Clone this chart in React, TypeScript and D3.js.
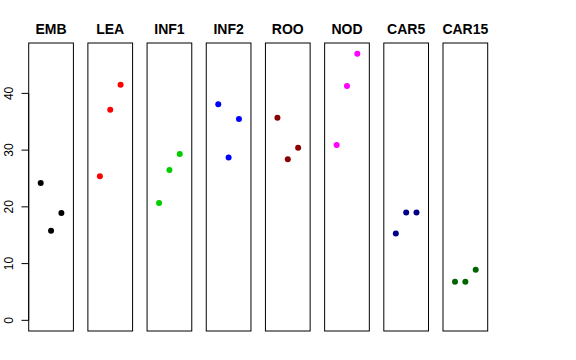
import React from "react";
import * as d3 from "d3";

const categories = ["EMB", "LEA", "INF1", "INF2", "ROO", "NOD", "CAR5", "CAR15"];
const colors = ["#000000", "#FF0000", "#00CD00", "#0000FF", "#8B0000", "#FF00FF", "#00008B", "#006400"];
const values: number[][] = [
  [24.2, 15.8, 18.9],
  [25.4, 37.1, 41.5],
  [20.7, 26.5, 29.3],
  [38.1, 28.7, 35.5],
  [35.7, 28.4, 30.4],
  [30.9, 41.3, 47.0],
  [15.3, 19.0, 19.0],
  [6.8, 6.8, 8.9],
];
const yTicks = [0, 10, 20, 30, 40];

const W = 576;
const H = 360;
const top = 43;
const bottom = 331;

export default function App() {
  const band = d3
    .scaleBand<string>()
    .domain(categories)
    .range([28.7, 487.7])
    .paddingInner(0.2447)
    .paddingOuter(0);
  const y = d3.scaleLinear().domain([-1.88, 48.88]).range([bottom, top]);
  const x = d3.scaleLinear().domain([-0.16, 4.16]).range([0, band.bandwidth()]);

  return (
    <svg
      width={W}
      height={H}
      style={{ position: "absolute", left: 0, top: 0, background: "#fff" }}
      fontFamily="'Liberation Sans', Arial, Helvetica, sans-serif"
    >
      <rect width={W} height={H} fill="#fff" />
      {categories.map((c, i) => {
        const x0 = band(c)!;
        return (
          <g key={c}>
            <rect
              x={x0}
              y={top}
              width={band.bandwidth()}
              height={bottom - top}
              fill="none"
              stroke="#000"
              strokeWidth={1}
            />
            <text
              x={x0 + band.bandwidth() / 2}
              y={34}
              textAnchor="middle"
              fontWeight="bold"
              fontSize={14}
            >
              {c}
            </text>
            {values[i].map((v, j) => (
              <circle key={j} cx={x0 + x(j + 1)} cy={y(v)} r={3} fill={colors[i]} />
            ))}
          </g>
        );
      })}
      <g>
        <line
          x1={28.7}
          x2={28.7}
          y1={y(0)}
          y2={y(40)}
          stroke="#000"
        />
        {yTicks.map((t) => (
          <g key={t}>
            <line x1={21.5} x2={28.7} y1={y(t)} y2={y(t)} stroke="#000" />
            <text
              transform={`translate(13.3,${y(t)}) rotate(-90)`}
              textAnchor="middle"
              fontSize={12}
            >
              {t}
            </text>
          </g>
        ))}
      </g>
    </svg>
  );
}
